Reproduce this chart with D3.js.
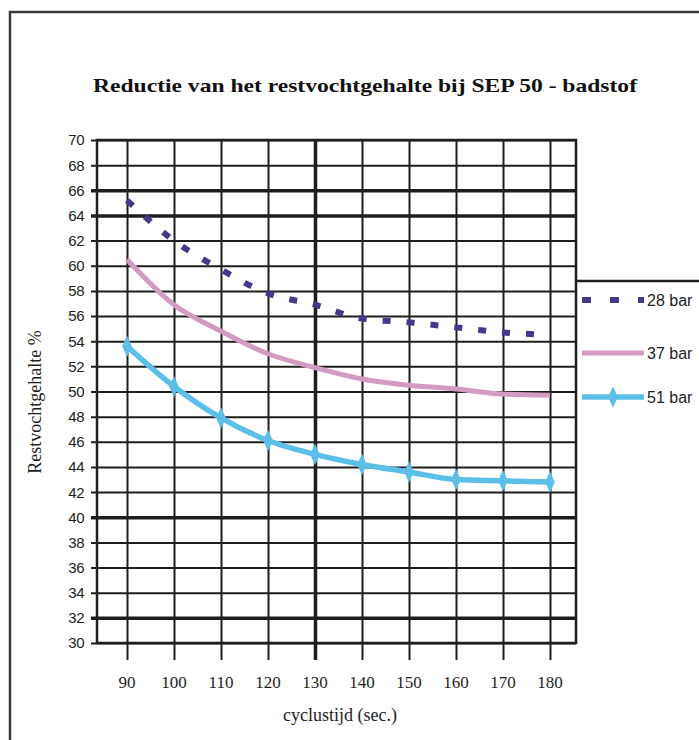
<!DOCTYPE html>
<html>
<head>
<meta charset="utf-8">
<script src="https://cdn.jsdelivr.net/npm/d3@7"></script>
<style>
  html, body { margin: 0; padding: 0; background: #fff; }
  svg { display: block; }
</style>
</head>
<body>
<div id="chart"></div>
<script>
// cycle time (sec.) on the x axis
const cycleTimes = [90, 100, 110, 120, 130, 140, 150, 160, 170, 180];
const yTicks = d3.range(30, 71, 2);

const bar28 = [65.2, 62.0, 59.7, 57.8, 56.9, 55.8, 55.5, 55.1, 54.7, 54.5];
const bar37 = [60.5, 56.9, 54.8, 53.0, 51.9, 51.0, 50.5, 50.2, 49.8, 49.7];
const bar51 = [53.6, 50.4, 47.9, 46.1, 45.0, 44.2, 43.6, 43.0, 42.9, 42.8];

const seriesNames = ['28 bar', '37 bar', '51 bar'];

class ScanChart {

  constructor(selector) {
    this.element = d3.select('#' + selector);
    this.width = 699;
    this.height = 740;
    this.plot = {left: 97, right: 576, top: 140, bottom: 643};
    this.ink = '#1e1e1e';
    this.series = [
      {label: seriesNames[0], values: bar28, color: '#45388c', dash: '8,16', width: 6, marker: null},
      {label: seriesNames[1], values: bar37, color: '#d39bc2', dash: null, width: 5, marker: null},
      {label: seriesNames[2], values: bar51, color: '#5cbfea', dash: null, width: 5.5, marker: 'diamond'}
    ];
    this.draw();
  }

  draw() {
    this.svg = this.element
      .append('svg')
      .attr('width', this.width)
      .attr('height', this.height)
      .attr('viewBox', `0 0 ${this.width} ${this.height}`);

    this.createScales();
    this.renderFrame();
    this.renderGrid();
    this.renderAxis();
    this.renderLines();
    this.renderLegend();
    this.renderTitles();
  }

  createScales() {
    this.x = d3.scaleLinear().domain([90, 180]).range([127, 550]);
    this.y = d3.scaleLinear().domain([30, 70]).range([this.plot.bottom, this.plot.top]);
  }

  /**
   * Outer border of the scanned page.
   */
  renderFrame() {
    this.svg.append('rect')
      .attr('width', this.width)
      .attr('height', this.height)
      .attr('fill', '#fff');

    this.svg.append('path')
      .attr('d', `M10,${this.height} V12 H${this.width}`)
      .attr('fill', 'none')
      .attr('stroke', '#3a3a3a')
      .attr('stroke-width', 2.5);
  }

  renderGrid() {
    const p = this.plot;
    const boldY = [66, 64, 40, 32];

    // horizontal lines, with short ticks left of the axis
    this.svg.append('g')
      .attr('transform', `translate(${p.left},0)`)
      .attr('stroke', this.ink)
      .call(d3.axisLeft(this.y).tickValues(yTicks).tickSize(-(p.right - p.left)).tickFormat(''))
      .call(g => g.select('.domain').remove())
      .call(g => g.selectAll('.tick line')
        .attr('x1', -6)
        .attr('stroke', this.ink)
        .attr('stroke-width', d => boldY.includes(d) ? 3.5 : 2));

    // vertical lines, running on below the plot as ticks
    this.svg.append('g')
      .attr('transform', `translate(0,${p.bottom})`)
      .call(d3.axisBottom(this.x).tickValues(cycleTimes).tickSize(-(p.bottom - p.top)).tickFormat(''))
      .call(g => g.select('.domain').remove())
      .call(g => g.selectAll('.tick line')
        .attr('y1', 17)
        .attr('stroke', this.ink)
        .attr('stroke-width', d => d === 130 ? 3.5 : 2));

    this.svg.append('rect')
      .attr('x', p.left)
      .attr('y', p.top)
      .attr('width', p.right - p.left)
      .attr('height', p.bottom - p.top)
      .attr('fill', 'none')
      .attr('stroke', this.ink)
      .attr('stroke-width', 2.5);
  }

  renderAxis() {
    const p = this.plot;

    this.svg.append('g')
      .selectAll('text')
      .data(yTicks)
      .join('text')
      .attr('x', p.left - 13)
      .attr('y', d => this.y(d))
      .attr('dy', '0.36em')
      .attr('text-anchor', 'end')
      .attr('font-family', 'Liberation Sans, Arial, sans-serif')
      .attr('font-size', 15)
      .attr('letter-spacing', -0.5)
      .attr('fill', this.ink)
      .text(d => d);

    this.svg.append('g')
      .selectAll('text')
      .data(cycleTimes)
      .join('text')
      .attr('x', d => this.x(d))
      .attr('y', 688)
      .attr('text-anchor', 'middle')
      .attr('font-family', 'Liberation Serif, Times New Roman, serif')
      .attr('font-size', 17)
      .attr('fill', this.ink)
      .text(d => d);
  }

  renderLines() {
    const line = d3.line()
      .x(d => this.x(d.t))
      .y(d => this.y(d.v))
      .curve(d3.curveMonotoneX);

    this.series.forEach(s => {
      const pts = cycleTimes.map((t, i) => ({t: t, v: s.values[i]}));
      this.svg.append('path')
        .datum(pts)
        .attr('d', line)
        .attr('fill', 'none')
        .attr('stroke', s.color)
        .attr('stroke-width', s.width)
        .attr('stroke-dasharray', s.dash)
        .attr('stroke-linejoin', 'round');

      if (s.marker === 'diamond') {
        this.svg.append('g')
          .selectAll('path')
          .data(pts)
          .join('path')
          .attr('d', d3.symbol(d3.symbolDiamond, 80))
          .attr('transform', d => `translate(${this.x(d.t)},${this.y(d.v)}) scale(1,1.3)`)
          .attr('fill', s.color);
      }
    });
  }

  renderLegend() {
    const left = this.plot.right;
    const rows = [300, 353, 397];

    this.svg.append('line')
      .attr('x1', left)
      .attr('x2', this.width)
      .attr('y1', 281)
      .attr('y2', 281)
      .attr('stroke', this.ink)
      .attr('stroke-width', 2.5);

    const item = this.svg.append('g')
      .selectAll('g')
      .data(this.series)
      .join('g')
      .attr('transform', (d, i) => `translate(${left},${rows[i]})`);

    item.append('line')
      .attr('x1', 6)
      .attr('x2', 68)
      .attr('stroke', d => d.color)
      .attr('stroke-width', d => d.width)
      .attr('stroke-dasharray', d => d.dash ? '9,19' : null);

    item.filter(d => d.marker === 'diamond')
      .append('path')
      .attr('d', d3.symbol(d3.symbolDiamond, 80))
      .attr('transform', 'translate(37,0) scale(1,1.3)')
      .attr('fill', d => d.color);

    item.append('text')
      .attr('x', 71)
      .attr('dy', '0.36em')
      .attr('font-family', 'Liberation Sans, Arial, sans-serif')
      .attr('font-size', 16)
      .attr('fill', this.ink)
      .text(d => d.label);
  }

  renderTitles() {
    this.svg.append('text')
      .attr('x', 365)
      .attr('y', 92)
      .attr('text-anchor', 'middle')
      .attr('font-family', 'Liberation Serif, Times New Roman, serif')
      .attr('font-weight', 'bold')
      .attr('font-size', 19)
      .attr('textLength', 544)
      .attr('lengthAdjust', 'spacingAndGlyphs')
      .attr('fill', '#111')
      .text('Reductie van het restvochtgehalte bij SEP 50 - badstof');

    this.svg.append('text')
      .attr('x', 340)
      .attr('y', 721)
      .attr('text-anchor', 'middle')
      .attr('font-family', 'Liberation Serif, Times New Roman, serif')
      .attr('font-size', 18)
      .attr('fill', this.ink)
      .text('cyclustijd (sec.)');

    this.svg.append('text')
      .attr('transform', 'translate(41,402) rotate(-90)')
      .attr('text-anchor', 'middle')
      .attr('font-family', 'Liberation Serif, Times New Roman, serif')
      .attr('font-size', 18)
      .attr('fill', this.ink)
      .text('Restvochtgehalte %');
  }
}

new ScanChart('chart');
</script>
</body>
</html>
